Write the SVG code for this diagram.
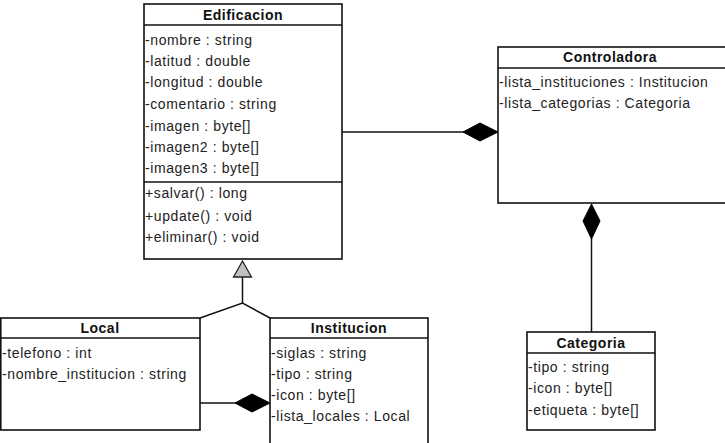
<svg xmlns="http://www.w3.org/2000/svg" width="725" height="443" viewBox="0 0 725 443">
<style>
.box{fill:#fff;stroke:#111;stroke-width:1.6}
.sep{stroke:#111;stroke-width:1.6}
.t{font-family:"Liberation Sans",Arial,sans-serif;font-size:14px;font-weight:bold;fill:#111;text-anchor:middle;letter-spacing:0.5px}
.a{font-family:"Liberation Sans",Arial,sans-serif;font-size:14px;fill:#222;letter-spacing:0.6px}
.ln{stroke:#111;stroke-width:1.5;fill:none}
</style>
<rect width="725" height="443" fill="#fff"/>
<g id="connectors">
<line class="ln" x1="342" y1="132" x2="464" y2="132"/>
<polygon points="463,132 480,123 498,132 480,141" fill="#000" stroke="#000"/>
<line class="ln" x1="591.5" y1="238" x2="591.5" y2="332"/>
<polygon points="591.5,204 600,221 591.5,239 583,221" fill="#000" stroke="#000"/>
<polyline class="ln" points="200,318 242.5,303 270,318"/>
<line class="ln" x1="242.5" y1="303" x2="242.5" y2="277"/>
<polygon points="242.5,261 251.5,277 233.5,277" fill="#c0c0c0" stroke="#222" stroke-width="1.3"/>
<line class="ln" x1="200" y1="403" x2="236" y2="403"/>
<polygon points="235,403 252,394 270,403 252,412" fill="#000" stroke="#000"/>
</g>
<g id="Edificacion">
<rect class="box" x="144" y="4" width="198" height="255"/>
<line class="sep" x1="144" y1="25" x2="342" y2="25"/>
<line class="sep" x1="144" y1="182" x2="342" y2="182"/>
<text class="t" x="243" y="20">Edificacion</text>
<text class="a" x="145" y="45">-nombre : string</text>
<text class="a" x="145" y="66">-latitud : double</text>
<text class="a" x="145" y="87">-longitud : double</text>
<text class="a" x="145" y="109">-comentario : string</text>
<text class="a" x="145" y="131">-imagen : byte[]</text>
<text class="a" x="145" y="152">-imagen2 : byte[]</text>
<text class="a" x="145" y="173">-imagen3 : byte[]</text>
<text class="a" x="145" y="198">+salvar() : long</text>
<text class="a" x="145" y="221">+update() : void</text>
<text class="a" x="145" y="242">+eliminar() : void</text>
</g>
<g id="Controladora">
<rect class="box" x="498" y="47" width="240" height="156"/>
<line class="sep" x1="498" y1="68" x2="738" y2="68"/>
<text class="t" x="610" y="62">Controladora</text>
<text class="a" x="499" y="87">-lista_instituciones : Institucion</text>
<text class="a" x="499" y="108">-lista_categorias : Categoria</text>
</g>
<g id="Local">
<rect class="box" x="0.8" y="318" width="199.2" height="112"/>
<line class="sep" x1="0" y1="338" x2="200" y2="338"/>
<text class="t" x="100" y="333">Local</text>
<text class="a" x="2" y="358">-telefono : int</text>
<text class="a" x="2" y="379">-nombre_institucion : string</text>
</g>
<g id="Institucion">
<rect class="box" x="270" y="318" width="158" height="140"/>
<line class="sep" x1="270" y1="338" x2="428" y2="338"/>
<text class="t" x="349" y="333">Institucion</text>
<text class="a" x="271" y="358">-siglas : string</text>
<text class="a" x="271" y="379">-tipo : string</text>
<text class="a" x="271" y="400">-icon : byte[]</text>
<text class="a" x="271" y="421">-lista_locales : Local</text>
</g>
<g id="Categoria">
<rect class="box" x="527" y="332" width="128" height="98"/>
<line class="sep" x1="527" y1="353" x2="655" y2="353"/>
<text class="t" x="591" y="348">Categoria</text>
<text class="a" x="528" y="372">-tipo : string</text>
<text class="a" x="528" y="393">-icon : byte[]</text>
<text class="a" x="528" y="415">-etiqueta : byte[]</text>
</g>
</svg>
